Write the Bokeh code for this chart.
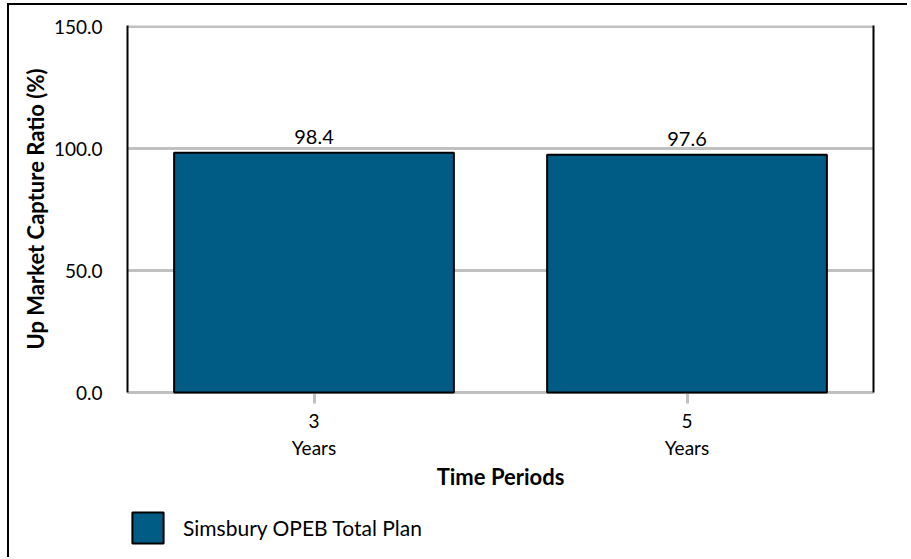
from bokeh.plotting import figure
from bokeh.layouts import column
from bokeh.models import (ColumnDataSource, FactorRange, Range1d, FixedTicker,
                          NumeralTickFormatter, LabelSet, Legend, LegendItem,
                          LinearAxis, CustomJSTickFormatter)
from bokeh.core.properties import value
from bokeh.embed import file_html
from bokeh.resources import INLINE

# ---- data ----
periods = ["3", "5"]
period_unit = "Years"
capture = [98.4, 97.6]
y_ticks = [0, 50, 100, 150]
series_name = "Simsbury OPEB Total Plan"

FONT = "Lato"
BAR = "#005B85"
GRID = "#c0c0c0"

src = ColumnDataSource(dict(period=periods, value=capture,
                            label=[f"{v:.1f}" for v in capture]))

W = 898
p = figure(width=W, height=497,
           x_range=FactorRange(factors=periods, range_padding=0),
           y_range=Range1d(0, 150.6),
           output_backend="svg", toolbar_location=None,
           min_border_left=118, min_border_right=34,
           min_border_top=20, min_border_bottom=110)
p.outline_line_color = None
p.background_fill_color = "white"
p.border_fill_color = "white"

p.xgrid.grid_line_color = None
p.ygrid.grid_line_color = GRID
p.ygrid.grid_line_width = 3
p.ygrid.ticker = FixedTicker(ticks=y_ticks)

r = p.vbar(x="period", top="value", width=0.75, source=src,
           fill_color=BAR, line_color="black", line_width=2)
r.level = "overlay"

# x axis
xa = p.xaxis[0]
xa.axis_line_color = GRID
xa.axis_line_width = 3
xa.major_tick_line_color = GRID
xa.major_tick_line_width = 3
xa.major_tick_out = 11
xa.major_tick_in = 0
xa.minor_tick_line_color = None
xa.formatter = CustomJSTickFormatter(args=dict(unit=period_unit),
                                     code="return tick + '\\n' + unit")
xa.major_label_text_font = FONT
xa.major_label_text_font_size = "19px"
xa.major_label_text_color = "black"
xa.major_label_standoff = 5
xa.axis_label = "Time Periods"
xa.axis_label_text_font = FONT
xa.axis_label_text_font_size = "22px"
xa.axis_label_text_font_style = "bold"
xa.axis_label_text_color = "black"
xa.axis_label_standoff = 1

# y axis
ya = p.yaxis[0]
ya.ticker = FixedTicker(ticks=y_ticks)
ya.formatter = NumeralTickFormatter(format="0.0")
ya.axis_line_color = "black"
ya.axis_line_width = 2
ya.major_tick_out = 0
ya.major_tick_in = 0
ya.minor_tick_line_color = None
ya.major_tick_line_color = None
ya.major_label_text_font = FONT
ya.major_label_text_font_size = "19px"
ya.major_label_text_color = "black"
ya.major_label_standoff = 25
ya.axis_label = "Up Market Capture Ratio (%)"
ya.axis_label_text_font = FONT
ya.axis_label_text_font_size = "22px"
ya.axis_label_text_font_style = "bold"
ya.axis_label_text_color = "black"
ya.axis_label_standoff = 2

# right border line
ra = LinearAxis(ticker=FixedTicker(ticks=[]), axis_line_color="black",
                axis_line_width=2, major_tick_out=0, major_tick_in=0,
                minor_tick_line_color=None, major_tick_line_color=None)
p.add_layout(ra, "right")

labels = LabelSet(x="period", y="value", text="label", source=src,
                  text_align="center", text_baseline="bottom", y_offset=9,
                  text_font=value(FONT), text_font_size=value("20px"),
                  text_color="black")
p.add_layout(labels)

# legend strip: a legend-only renderer (no bar geometry drawn)
legend_src = ColumnDataSource(dict(period=[periods[0]], value=[float("nan")]))
lg = figure(width=W, height=55,
            x_range=FactorRange(factors=periods), y_range=Range1d(0, 150),
            output_backend="svg", toolbar_location=None,
            x_axis_location=None, y_axis_location=None,
            min_border=0)
lg.outline_line_color = None
lg.grid.grid_line_color = None
lr = lg.vbar(x="period", top="value", width=0.75, source=legend_src,
             fill_color=BAR, line_color="black", line_width=2)
legend = Legend(items=[LegendItem(label=series_name, renderers=[lr])],
                location=(1, 10), orientation="horizontal",
                glyph_width=39, glyph_height=39, label_standoff=16,
                padding=0, margin=0, spacing=0,
                border_line_color=None, background_fill_alpha=0,
                label_text_font=FONT, label_text_font_size="21px",
                label_text_color="black")
lg.add_layout(legend)

layout = column(p, lg, spacing=0)
layout.styles = {"border-left": "2px solid black", "border-top": "2px solid black",
                 "margin-left": "7px", "margin-top": "3px"}

open("out.html", "w").write(file_html(layout, INLINE))
